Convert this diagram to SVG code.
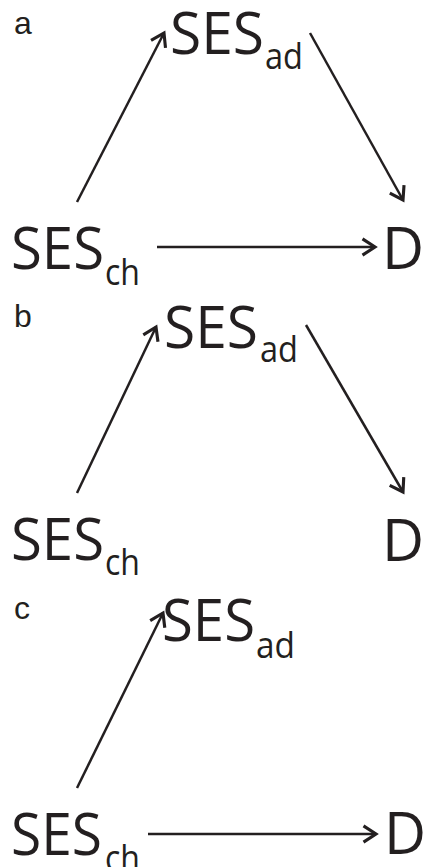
<svg xmlns="http://www.w3.org/2000/svg" width="423" height="867" viewBox="0 0 423 867">
<style>
.lbl{font-family:"Liberation Sans",Arial,sans-serif;font-size:32px;fill:#231f20}
.big{font-family:"Open Sans","Noto Sans",sans-serif;font-size:58px;fill:#231f20}
.sub{font-family:"Open Sans","Noto Sans",sans-serif;font-size:36px;fill:#231f20}
.edge{stroke:#231f20;stroke-width:2.5;fill:none;marker-end:url(#ah)}
</style>
<defs>
<marker id="ah" markerUnits="userSpaceOnUse" markerWidth="20" markerHeight="20" viewBox="-12 -8 14 16" refX="0" refY="0" orient="auto">
<path d="M-10,-6.5 L0,0 L-10,6.5" fill="none" stroke="#231f20" stroke-width="2.5" stroke-linejoin="miter"/>
</marker>
</defs>
<rect width="423" height="867" fill="#fff"/>
<g id="panel-a">
<text class="lbl" x="14" y="34">a</text>
<g id="a-SESad"><text class="big" x="170" y="54" textLength="94" lengthAdjust="spacingAndGlyphs">SES</text><text class="sub" x="265" y="69" textLength="38" lengthAdjust="spacingAndGlyphs">ad</text></g>
<g id="a-SESch"><text class="big" x="11" y="269" textLength="93" lengthAdjust="spacingAndGlyphs">SES</text><text class="sub" x="105" y="285" textLength="35" lengthAdjust="spacingAndGlyphs">ch</text></g>
<g id="a-D"><text class="big" x="382" y="269">D</text></g>
<g id="a-edges">
<line class="edge" x1="77" y1="202" x2="164" y2="33"/>
<line class="edge" x1="310" y1="33" x2="403" y2="200"/>
<line class="edge" x1="157" y1="247" x2="375" y2="247"/>
</g>
</g>
<g id="panel-b">
<text class="lbl" x="14" y="327">b</text>
<g id="b-SESad"><text class="big" x="164" y="348" textLength="94" lengthAdjust="spacingAndGlyphs">SES</text><text class="sub" x="260" y="362" textLength="38" lengthAdjust="spacingAndGlyphs">ad</text></g>
<g id="b-SESch"><text class="big" x="11" y="560" textLength="93" lengthAdjust="spacingAndGlyphs">SES</text><text class="sub" x="105" y="575" textLength="35" lengthAdjust="spacingAndGlyphs">ch</text></g>
<g id="b-D"><text class="big" x="382" y="561">D</text></g>
<g id="b-edges">
<line class="edge" x1="77" y1="493" x2="156" y2="327"/>
<line class="edge" x1="306" y1="325" x2="403" y2="492"/>
</g>
</g>
<g id="panel-c">
<text class="lbl" x="14" y="619">c</text>
<g id="c-SESad"><text class="big" x="162" y="641" textLength="93" lengthAdjust="spacingAndGlyphs">SES</text><text class="sub" x="256" y="658" textLength="39" lengthAdjust="spacingAndGlyphs">ad</text></g>
<g id="c-SESch"><text class="big" x="11" y="855" textLength="91" lengthAdjust="spacingAndGlyphs">SES</text><text class="sub" x="105" y="871" textLength="35" lengthAdjust="spacingAndGlyphs">ch</text></g>
<g id="c-D"><text class="big" x="384" y="854">D</text></g>
<g id="c-edges">
<line class="edge" x1="77" y1="788" x2="163" y2="613"/>
<line class="edge" x1="148" y1="834" x2="376" y2="834"/>
</g>
</g>
</svg>
